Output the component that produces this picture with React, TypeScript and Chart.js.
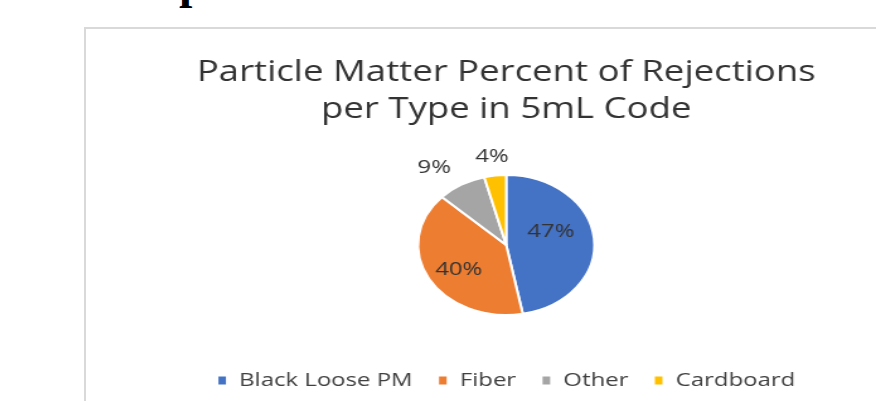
import React, { useEffect, useRef } from "react";
import { Chart, registerables } from "chart.js";

Chart.register(...registerables);

const categories = ["Black Loose PM", "Fiber", "Other", "Cardboard"];
const percentValues = [47, 40, 9, 4];
const sliceColors = ["#4472C4", "#ED7D31", "#A5A5A5", "#FFC000"];
const titleLines = ["Particle Matter Percent of Rejections", "per Type in 5mL Code"];

// label placement styling (radius factor & angle shift in degrees), per slice
const labelRadiusFactor = [0.54, 0.64, 1.37, 1.28];
const labelAngleShiftDeg = [-15, -4, -6, 0];

const STRETCH_X = 1.26;
const CANVAS_W = 667;
const CANVAS_H = 371;

const pieLabelPlugin = {
  id: "pieLabels",
  afterDatasetsDraw(chart: any) {
    const ctx = chart.ctx;
    const meta = chart.getDatasetMeta(0);
    const data = chart.data.datasets[0].data as number[];
    const total = data.reduce((a, b) => a + b, 0);
    ctx.save();
    ctx.font = "19px 'Open Sans'";
    ctx.fillStyle = "#333333";
    ctx.textAlign = "center";
    ctx.textBaseline = "middle";
    meta.data.forEach((arc: any, i: number) => {
      const p = arc.getProps(["x", "y", "startAngle", "endAngle", "outerRadius"], true);
      const mid = (p.startAngle + p.endAngle) / 2 + (labelAngleShiftDeg[i] * Math.PI) / 180;
      const r = p.outerRadius * labelRadiusFactor[i];
      const tx = p.x + Math.cos(mid) * r;
      const ty = p.y + Math.sin(mid) * r;
      ctx.fillText(Math.round((data[i] / total) * 100) + "%", tx, ty);
    });
    ctx.restore();
  },
};

function PieChart() {
  const ref = useRef<HTMLCanvasElement | null>(null);
  useEffect(() => {
    if (!ref.current) return;
    const chart = new Chart(ref.current, {
      type: "pie",
      data: {
        labels: categories,
        datasets: [
          {
            data: percentValues,
            backgroundColor: sliceColors,
            borderColor: "#ffffff",
            borderWidth: 2,
            radius: 70,
          } as any,
        ],
      },
      options: {
        animation: false,
        responsive: false,
        maintainAspectRatio: false,
        devicePixelRatio: 1,
        layout: { padding: 0 },
        plugins: {
          title: {
            display: true,
            text: titleLines,
            color: "#333333",
            font: { family: "'Open Sans'", size: 29, weight: "normal", lineHeight: 37 / 29 },
            padding: { top: 25, bottom: 11 },
          },
          legend: {
            display: true,
            position: "bottom",
            labels: {
              color: "#404040",
              font: { family: "'Open Sans'", size: 19 },
              boxWidth: 8,
              boxHeight: 10,
              padding: 20,
            },
          },
          tooltip: { enabled: false },
        },
      },
      plugins: [pieLabelPlugin],
    });
    return () => chart.destroy();
  }, []);
  return (
    <canvas
      ref={ref}
      width={CANVAS_W}
      height={CANVAS_H}
      style={{ display: "block", width: CANVAS_W, height: CANVAS_H }}
    />
  );
}

export default function App() {
  return (
    <div
      style={{
        position: "fixed",
        left: 0,
        top: 0,
        width: 876,
        height: 401,
        overflow: "hidden",
        background: "#ffffff",
      }}
    >
      <div
        style={{
          position: "absolute",
          left: 179,
          top: -42,
          fontFamily: "'Liberation Serif', serif",
          fontWeight: "bold",
          fontSize: 48,
          lineHeight: "48px",
          color: "#000",
        }}
      >
        p
      </div>
      <div
        style={{
          position: "absolute",
          left: 84,
          top: 27,
          width: 900,
          height: 420,
          borderLeft: "2px solid #d9d9d9",
          borderTop: "2px solid #d9d9d9",
          background: "#fff",
        }}
      >
        <div
          style={{
            width: CANVAS_W,
            height: CANVAS_H,
            transform: `scaleX(${STRETCH_X})`,
            transformOrigin: "0 0",
          }}
        >
          <PieChart />
        </div>
      </div>
    </div>
  );
}
